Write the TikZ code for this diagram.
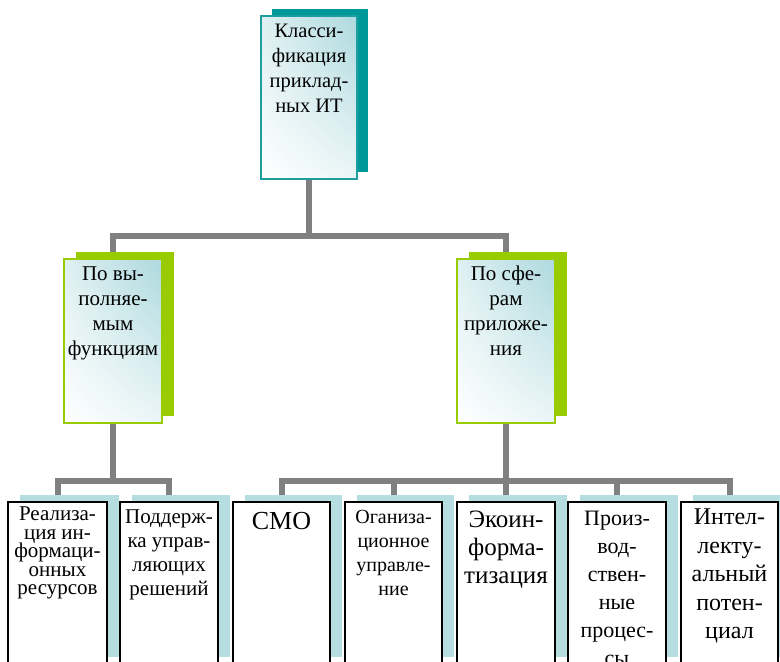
\documentclass[tikz,border=0pt]{standalone}
\usepackage{fontspec}
\setmainfont{Liberation Serif}
\usetikzlibrary{shadows,backgrounds,shadings}
\definecolor{connc}{HTML}{808080}
\definecolor{tealdark}{HTML}{009999}
\definecolor{tealborder}{HTML}{1E9E9E}
\definecolor{lime}{HTML}{99CC00}
\definecolor{pale}{HTML}{B6DEE1}
\definecolor{gradtop}{HTML}{ADD9DE}
\newcommand{\bxtext}[6]{\parbox[t][#2][t]{#1}{\lineskiplimit=-100pt\centering\fontsize{#4}{#5}\selectfont\vspace*{#3}\strut #6}}
\begin{document}
\begin{tikzpicture}[x=1pt,y=-1pt,
  conn/.style={draw=connc, line width=6pt, line join=miter},
  gradbox/.style={anchor=north west, inner sep=0pt, outer sep=0pt, line width=1.5pt,
    upper right=gradtop, upper left=gradtop!40!white, lower left=white, lower right=gradtop!25!white},
  topbox/.style={gradbox, draw=tealborder,
    general shadow={fill=tealdark, shadow xshift=11pt, shadow yshift=7pt}},
  midbox/.style={gradbox, draw=lime,
    general shadow={fill=lime, shadow xshift=11.5pt, shadow yshift=7pt}},
  leafbox/.style={anchor=north west, inner sep=0pt, outer sep=0pt, line width=2pt, draw=black, fill=white,
    general shadow={fill=pale, shadow xshift=12pt, shadow yshift=7pt}}
]
\useasboundingbox (0,0) rectangle (780,662);

\node[topbox] (top) at (261,16) {\bxtext{96pt}{163pt}{4.7pt}{20.5}{24.7}{Класси-\\фикация\\приклад-\\ных ИТ}};

\node[midbox] (mid1) at (64,259) {\bxtext{98pt}{164pt}{3.5pt}{21}{25}{По вы-\\полняе-\\мым\\функциям}};
\node[midbox] (mid2) at (457,259) {\bxtext{98pt}{164pt}{3.5pt}{21}{25}{По сфе-\\рам\\приложе-\\ния}};

\node[leafbox] (b1) at (8,502) {\bxtext{99pt}{162pt}{5pt}{21}{18.5}{Реализа-\\ция ин-\\формаци-\\онных\\ресурсов}};
\node[leafbox] (b2) at (120,502) {\bxtext{98pt}{162pt}{4.2pt}{21}{24}{Поддерж-\\ка управ-\\ляющих\\решений}};
\node[leafbox] (b3) at (233,502) {\bxtext{97pt}{162pt}{7.4pt}{26}{28}{СМО}};
\node[leafbox] (b4) at (345,502) {\bxtext{97pt}{162pt}{4.2pt}{20}{24}{Оганиза-\\ционное\\управле-\\ние}};
\node[leafbox] (b5) at (457,502) {\bxtext{98pt}{162pt}{5.4pt}{25}{28}{Экоин-\\форма-\\тизация}};
\node[leafbox] (b6) at (568,502) {\bxtext{98pt}{162pt}{3.4pt}{22}{28}{Произ-\\вод-\\ствен-\\ные\\процес-\\сы}};
\node[leafbox] (b7) at (681,502) {\bxtext{97pt}{162pt}{3.1pt}{24}{28.4}{Интел-\\лекту-\\альный\\потен-\\циал}};

\coordinate (bar1) at (0,236);
\coordinate (bar2) at (0,481);
\begin{scope}[on background layer]
\draw[conn] (mid1.north) |- (bar1 -| top.south) -- (top.south);
\draw[conn] (mid2.north) |- (bar1 -| top.south);
\draw[conn] (b1.north) |- (bar2 -| mid1.south) -- (mid1.south);
\draw[conn] (b2.north) |- (bar2 -| mid1.south);
\draw[conn] (b3.north) |- (bar2 -| mid2.south) -- (mid2.south);
\draw[conn] (b4.north) |- (bar2 -| mid2.south);
\draw[conn] (b5.north) |- (bar2 -| mid2.south);
\draw[conn] (b6.north) |- (bar2 -| mid2.south);
\draw[conn] (b7.north) |- (bar2 -| mid2.south);
\end{scope}
\end{tikzpicture}
\end{document}
